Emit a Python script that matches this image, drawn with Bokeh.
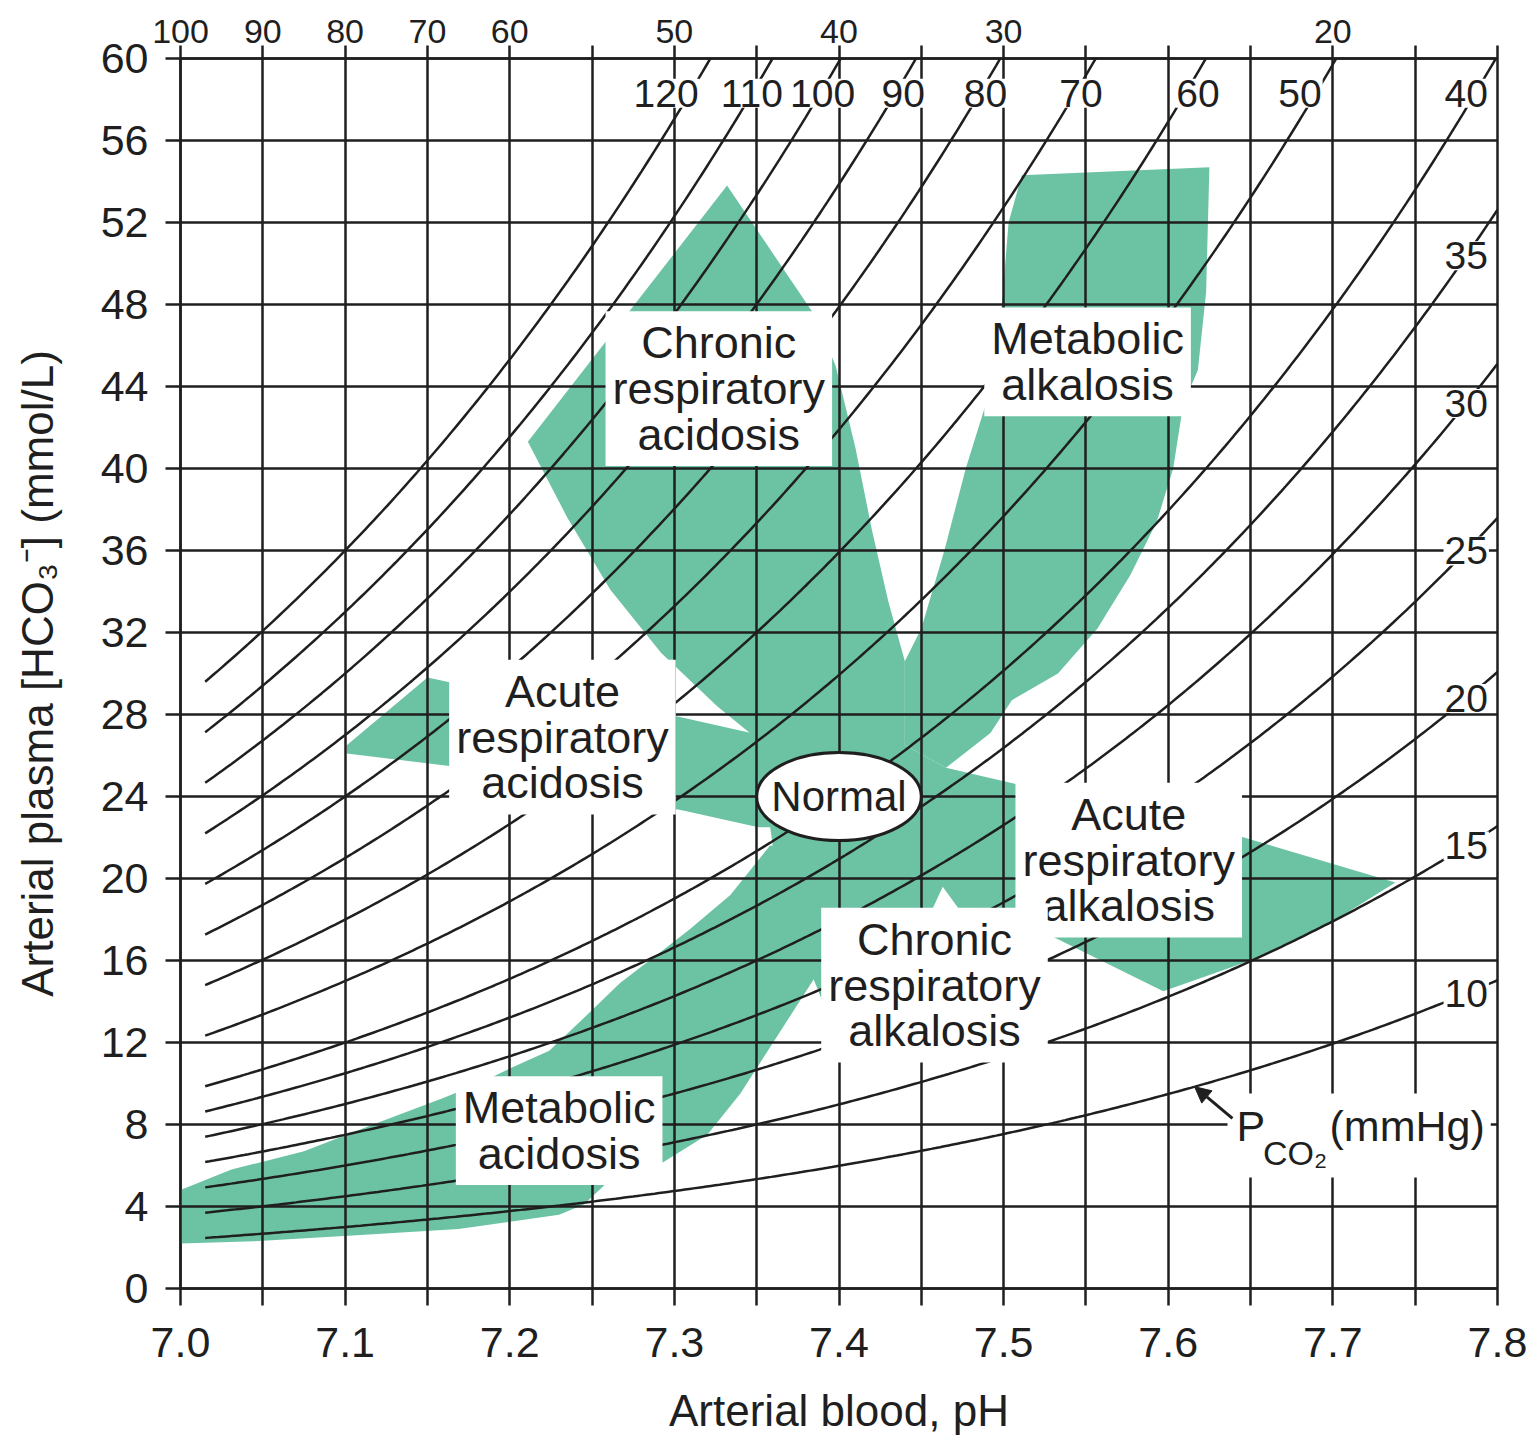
import numpy as np
from bokeh.plotting import figure
from bokeh.models import (FixedTicker, CustomJSTickFormatter, LinearAxis, Range1d,
                          NumeralTickFormatter, Arrow, NormalHead, Grid)
from bokeh.embed import file_html
from bokeh.resources import INLINE
from bokeh.core.properties import value

FONT = "Liberation Sans"
INK = "#1f1f1f"
GREEN = "#6cc3a3"

# ---------------- axes data ----------------
ph_major = [7.0, 7.1, 7.2, 7.3, 7.4, 7.5, 7.6, 7.7, 7.8]
ph_minor = [7.05, 7.15, 7.25, 7.35, 7.45, 7.55, 7.65, 7.75]
hco3_ticks = [0, 4, 8, 12, 16, 20, 24, 28, 32, 36, 40, 44, 48, 52, 56, 60]
h_ion_ph = [7.0, 7.05, 7.1, 7.15, 7.2, 7.3, 7.4, 7.5, 7.7]
h_ion_labels = ["100", "90", "80", "70", "60", "50", "40", "30", "20"]
h_ion_blank = [7.25, 7.35, 7.45, 7.55, 7.6, 7.65, 7.75, 7.8]

# ---------------- PCO2 isopleths (mmHg) ----------------
pco2_top = [120, 110, 100, 90, 80, 70, 60, 50, 40]
pco2_top_label_ph = [7.295, 7.347, 7.390, 7.439, 7.489, 7.547, 7.618, 7.680, 7.781]
pco2_right = [35, 30, 25, 20, 15, 10]
pco2_all = pco2_top + pco2_right

# ---------------- shaded regions (pH, HCO3) ----------------
chronic_acid_ph = [7.332, 7.385, 7.398, 7.410, 7.420, 7.430, 7.440, 7.440, 7.400, 7.352, 7.326, 7.292, 7.261, 7.235, 7.211]
chronic_acid_hco3 = [53.8, 47.5, 45.0, 41.0, 37.0, 33.5, 30.6, 26.0, 26.0, 26.7, 28.4, 31.0, 34.1, 37.6, 41.3]

met_alk_ph = [7.511, 7.625, 7.623, 7.618, 7.609, 7.603, 7.593, 7.577, 7.557, 7.533, 7.505, 7.492, 7.465, 7.440, 7.440, 7.450, 7.464, 7.477, 7.489, 7.499, 7.503]
met_alk_hco3 = [54.3, 54.7, 48.6, 44.8, 43.1, 40.0, 37.4, 34.8, 32.2, 30.0, 28.7, 27.1, 25.4, 26.5, 30.6, 32.2, 36.0, 40.0, 43.1, 48.0, 52.0]

core_ph = [7.350, 7.440, 7.465, 7.460, 7.360]
core_hco3 = [27.0, 26.5, 25.4, 21.5, 21.5]

acute_acid_ph = [7.101, 7.150, 7.162, 7.302, 7.352, 7.370, 7.370, 7.351, 7.306, 7.162, 7.101]
acute_acid_hco3 = [26.5, 29.8, 29.6, 27.9, 27.0, 26.0, 22.5, 22.5, 23.3, 25.5, 26.1]

acute_alk_ph = [7.440, 7.465, 7.529, 7.646, 7.738, 7.700, 7.650, 7.597, 7.529, 7.460]
acute_alk_hco3 = [24.0, 25.4, 24.2, 22.0, 19.8, 17.9, 16.0, 14.5, 17.2, 20.0]

chronic_alk_ph = [7.360, 7.440, 7.500, 7.525, 7.482, 7.463, 7.451, 7.440, 7.400, 7.370]
chronic_alk_hco3 = [22.5, 22.5, 20.0, 17.5, 17.5, 19.6, 17.5, 12.0, 12.0, 18.0]

met_acid_ph = [7.420, 7.358, 7.334, 7.309, 7.293, 7.267, 7.245, 7.224, 7.202, 7.181, 7.160, 7.117, 7.075, 7.031, 7.000,
               7.000, 7.045, 7.107, 7.169, 7.230, 7.245, 7.261, 7.290, 7.320, 7.340, 7.360, 7.380, 7.400, 7.420]
met_acid_hco3 = [22.0, 21.6, 19.2, 17.5, 16.5, 14.9, 13.2, 11.6, 10.8, 10.0, 9.3, 8.0, 6.7, 5.8, 4.8,
                 2.2, 2.3, 2.6, 2.9, 3.6, 4.1, 5.3, 6.0, 7.5, 9.5, 12.0, 14.5, 17.0, 19.0]

# ---------------- region labels ----------------
region_names = ["Chronic\nrespiratory\nacidosis", "Metabolic\nalkalosis", "Acute\nrespiratory\nacidosis",
                "Acute\nrespiratory\nalkalosis", "Chronic\nrespiratory\nalkalosis", "Metabolic\nacidosis"]
region_ph = [7.327, 7.551, 7.232, 7.576, 7.458, 7.230]
region_hco3 = [43.9, 45.2, 26.9, 20.9, 14.8, 7.7]

normal_ph = 7.40
normal_hco3 = 24.0


def isopleth(pco2, ph):
    return 0.03 * pco2 * 10 ** (ph - 6.1)


p = figure(frame_width=1317, frame_height=1230,
           x_range=Range1d(7.0, 7.8), y_range=Range1d(0, 60),
           x_axis_type=None, y_axis_type=None,
           output_backend="svg", toolbar_location=None,
           min_border_left=180, min_border_right=40, min_border_top=58, min_border_bottom=0)
p.background_fill_color = "white"
p.border_fill_color = "white"
p.outline_line_color = INK
p.outline_line_width = 2.5

# shaded regions
xs = [chronic_acid_ph, met_alk_ph, core_ph, acute_acid_ph, acute_alk_ph, chronic_alk_ph, met_acid_ph]
ys = [chronic_acid_hco3, met_alk_hco3, core_hco3, acute_acid_hco3, acute_alk_hco3, chronic_alk_hco3, met_acid_hco3]
pr = p.patches(xs, ys, fill_color=GREEN, line_color=None)
pr.level = "image"

# grids
all_ph = sorted(ph_major + ph_minor)
p.add_layout(Grid(dimension=0, ticker=FixedTicker(ticks=all_ph), grid_line_color=INK, grid_line_width=2.5))
p.add_layout(Grid(dimension=1, ticker=FixedTicker(ticks=hco3_ticks), grid_line_color=INK, grid_line_width=2.5))


# axes
def style_axis(ax, tick_out, size):
    ax.axis_line_color = INK
    ax.axis_line_width = 2.5
    ax.major_tick_line_color = INK
    ax.major_tick_line_width = 2.5
    ax.major_tick_in = 0
    ax.major_tick_out = tick_out
    ax.minor_tick_line_color = INK
    ax.minor_tick_line_width = 2.5
    ax.minor_tick_in = 0
    ax.minor_tick_out = tick_out
    ax.major_label_text_font = FONT
    ax.major_label_text_font_size = size
    ax.major_label_text_color = INK
    ax.axis_label_text_font = FONT
    ax.axis_label_text_font_size = "44px"
    ax.axis_label_text_font_style = "normal"
    ax.axis_label_text_color = INK


left = LinearAxis(ticker=FixedTicker(ticks=hco3_ticks), axis_label="Arterial plasma [HCO₃⁻] (mmol/L)")
style_axis(left, 15, "43px")
left.major_label_standoff = 17
left.axis_label_standoff = 36
p.add_layout(left, "left")

below = LinearAxis(ticker=FixedTicker(ticks=ph_major, minor_ticks=ph_minor),
                   formatter=NumeralTickFormatter(format="0.0"), axis_label="Arterial blood, pH")
style_axis(below, 17, "43px")
below.major_label_standoff = 22
below.axis_label_standoff = 26
p.add_layout(below, "below")

above = LinearAxis(ticker=FixedTicker(ticks=h_ion_ph, minor_ticks=h_ion_blank),
                   formatter=CustomJSTickFormatter(args=dict(pos=h_ion_ph, lab=h_ion_labels), code="""
                       for (let i = 0; i < pos.length; i++) {
                           if (Math.abs(tick - pos[i]) < 1e-6) { return lab[i]; }
                       }
                       return '';
                   """))
style_axis(above, 13, "34px")
above.major_label_standoff = 3
p.add_layout(above, "above")

# isopleths
grid_ph = np.linspace(7.015, 7.8, 300)
p.multi_line([list(grid_ph)] * len(pco2_all), [list(isopleth(pc, grid_ph)) for pc in pco2_all],
             line_color=INK, line_width=2.5)

# isopleth labels
top_y = 58.3
right_x = 7.781
right_y = [isopleth(pc, right_x) for pc in pco2_right]
p.text(x=pco2_top_label_ph + [right_x] * len(pco2_right), y=[top_y] * len(pco2_top) + right_y,
       text=[str(v) for v in pco2_all], text_font=value(FONT), text_font_size="39px",
       text_color=INK, text_align="center", text_baseline="middle",
       background_fill_color="white", padding=1)

# region labels
p.text(x=region_ph, y=region_hco3, text=region_names, text_font=value(FONT), text_font_size="45px",
       text_color=INK, text_align="center", text_baseline="middle", text_line_height=0.9,
       background_fill_color="white", padding=dict(left=7, right=7, top=6, bottom=6))

# normal
p.ellipse(x=[normal_ph], y=[normal_hco3], width=[0.1], height=[4.3], fill_color="white",
          line_color=INK, line_width=3)
p.text(x=[normal_ph], y=[normal_hco3], text=["Normal"], text_font=value(FONT), text_font_size="42px",
       text_color=INK, text_align="center", text_baseline="middle")

# PCO2 annotation: one white box behind "P", "CO2" and "(mmHg)"
p.text(x=[7.636], y=[7.46], text=["(mmHg)"], text_font=value(FONT),
       text_font_size="43px", text_color=INK, text_align="left", text_baseline="middle",
       background_fill_color="white", padding=dict(left=102, right=6, top=8, bottom=28))
p.text(x=[7.6415], y=[7.95], text=["P"], text_font=value(FONT),
       text_font_size="43px", text_color=INK, text_align="left", text_baseline="middle")
p.text(x=[7.6575], y=[6.6], text=["CO₂"], text_font=value(FONT), text_font_size="34px",
       text_color=INK, text_align="left", text_baseline="middle")
tip_x = 7.616
p.add_layout(Arrow(end=NormalHead(size=16, fill_color=INK, line_color=INK),
                   x_start=7.639, y_start=8.3, x_end=tip_x, y_end=isopleth(10, tip_x),
                   line_color=INK, line_width=3))

open("out.html", "w").write(file_html(p, INLINE))
